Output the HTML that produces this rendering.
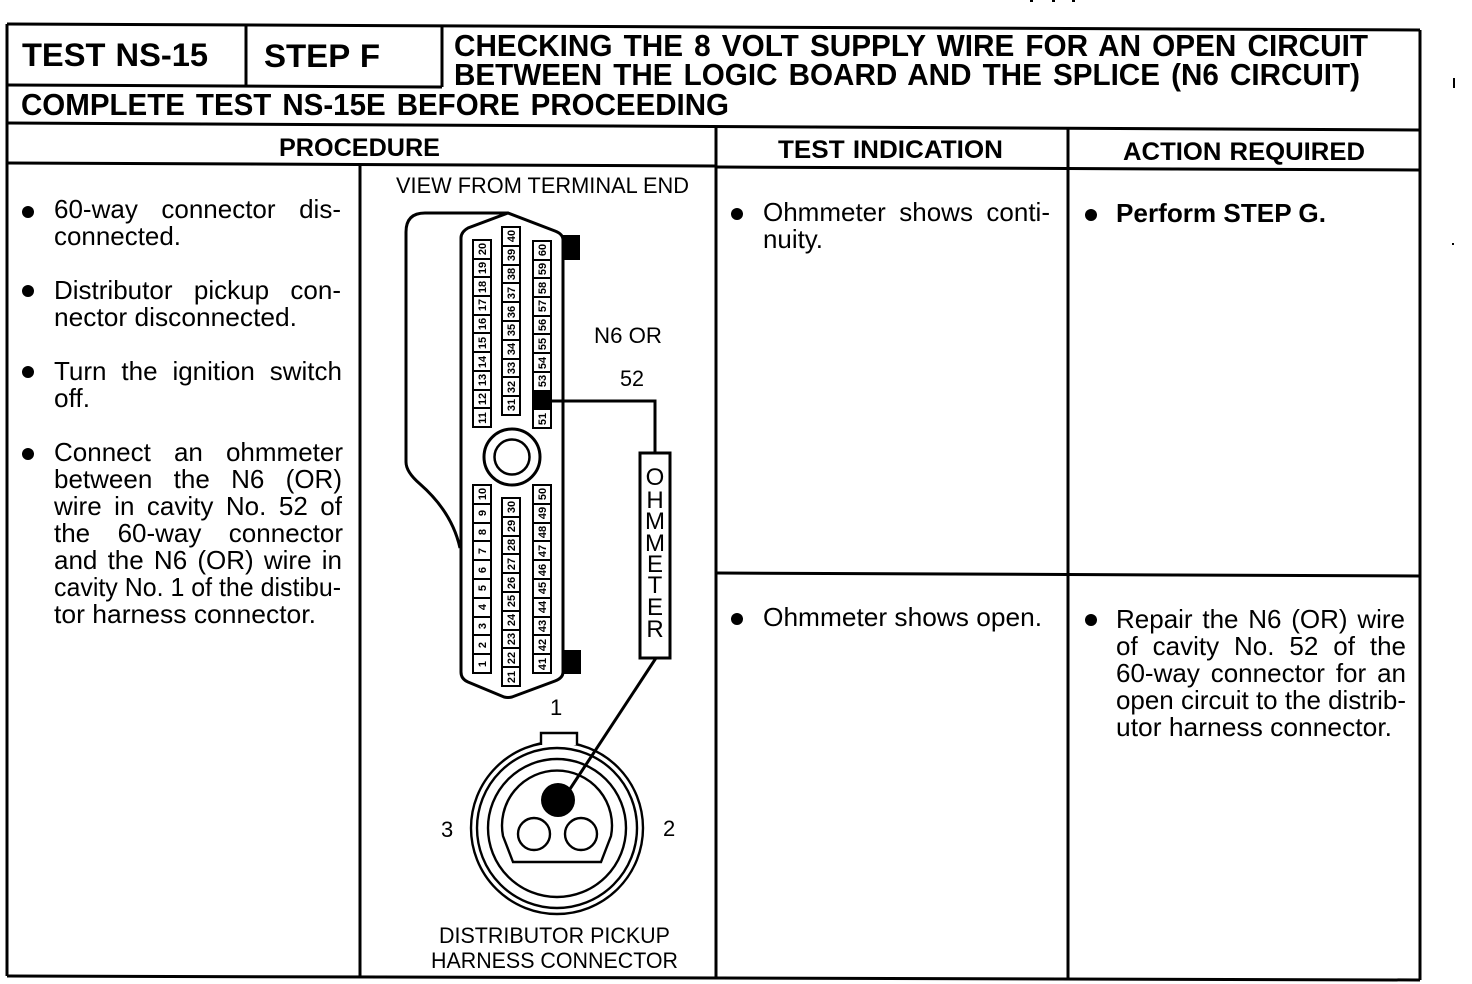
<!DOCTYPE html>
<html><head><meta charset="utf-8"><style>
html,body{margin:0;padding:0;background:#fff;width:1472px;height:984px;overflow:hidden}
body{position:relative;font-family:"Liberation Sans",sans-serif;color:#000}
svg{position:absolute;left:0;top:0}
.j{position:absolute;font-size:26px;line-height:27px;height:27px;text-align:justify;text-align-last:justify;white-space:nowrap}
text{font-family:"Liberation Sans",sans-serif;fill:#000}
.h{font-weight:bold;font-size:32px}
.c{font-weight:bold;font-size:25px}
.b{font-size:26px}
.l{font-size:22px}
.n{font-weight:bold;font-size:11px;text-anchor:middle}
.o{font-size:24px;text-anchor:middle}
</style></head><body>
<svg width="1472" height="984" viewBox="0 0 1472 984">
<g stroke="#000" stroke-width="3" fill="none">
<path d="M7 24L1420 30M7 123L1420 130M7 85L442 87M7 163L716 166M716 167L1420 170M716 573L1420 576M7 976L1420 980"/>
<path d="M7 24V976M1420 30V980M246 25V86M442 26V87M360 164V977M716 128V978M1068 129V979"/>
</g>
<text class="h" x="22" y="66" textLength="186" lengthAdjust="spacingAndGlyphs" word-spacing="1">TEST NS-15</text>
<text class="h" x="264" y="67" textLength="116" lengthAdjust="spacingAndGlyphs" word-spacing="1">STEP F</text>
<text class="h" x="454" y="56" style="font-size:31px" textLength="914" lengthAdjust="spacingAndGlyphs" word-spacing="3">CHECKING THE 8 VOLT SUPPLY WIRE FOR AN OPEN CIRCUIT</text>
<text class="h" x="454" y="85" style="font-size:31px" textLength="906" lengthAdjust="spacingAndGlyphs" word-spacing="3">BETWEEN THE LOGIC BOARD AND THE SPLICE (N6 CIRCUIT)</text>
<text class="h" x="21" y="115" style="font-size:31px" textLength="708" lengthAdjust="spacingAndGlyphs" word-spacing="3">COMPLETE TEST NS-15E BEFORE PROCEEDING</text>
<text class="c" x="279" y="156" textLength="161" lengthAdjust="spacingAndGlyphs">PROCEDURE</text>
<text class="c" x="778" y="158" textLength="225" lengthAdjust="spacingAndGlyphs" word-spacing="1">TEST INDICATION</text>
<text class="c" x="1123" y="160" textLength="242" lengthAdjust="spacingAndGlyphs" word-spacing="1">ACTION REQUIRED</text>

<g fill="#000">
<circle cx="28" cy="212" r="6"/><circle cx="28" cy="291" r="6"/><circle cx="28" cy="372" r="6"/><circle cx="28" cy="454" r="6"/>
<circle cx="737" cy="214" r="6"/><circle cx="737" cy="619" r="6"/><circle cx="1091" cy="215" r="6"/><circle cx="1091" cy="620" r="6"/>
<rect x="1453" y="78" width="2" height="10"/><rect x="1452" y="243" width="2" height="2"/>
<rect x="1030" y="0" width="3" height="2"/><rect x="1052" y="0" width="3" height="2"/><rect x="1072" y="0" width="3" height="2"/>
</g>

<text class="b" x="54" y="245" textLength="127" lengthAdjust="spacingAndGlyphs">connected.</text>
<text class="b" x="54" y="326" textLength="243" lengthAdjust="spacingAndGlyphs">nector disconnected.</text>
<text class="b" x="54" y="407" textLength="36" lengthAdjust="spacingAndGlyphs">off.</text>
<text class="b" x="54" y="596" textLength="287" lengthAdjust="spacingAndGlyphs">cavity No. 1 of the distibu-</text>
<text class="b" x="54" y="623" textLength="262" lengthAdjust="spacingAndGlyphs">tor harness connector.</text>
<text class="b" x="763" y="248" textLength="60" lengthAdjust="spacingAndGlyphs">nuity.</text>
<text class="b" x="763" y="626" textLength="279" lengthAdjust="spacingAndGlyphs">Ohmmeter shows open.</text>
<text class="b" x="1116" y="222" style="font-weight:bold" textLength="210" lengthAdjust="spacingAndGlyphs">Perform STEP G.</text>
<text class="b" x="1116" y="709" textLength="290" lengthAdjust="spacingAndGlyphs">open circuit to the distrib-</text>
<text class="b" x="1116" y="736" textLength="276" lengthAdjust="spacingAndGlyphs">utor harness connector.</text>

<text class="l" x="396" y="193" textLength="293" lengthAdjust="spacingAndGlyphs">VIEW FROM TERMINAL END</text>
<text class="l" x="594" y="343" textLength="68" lengthAdjust="spacingAndGlyphs">N6 OR</text>
<text class="l" x="620" y="386" textLength="24" lengthAdjust="spacingAndGlyphs">52</text>
<text class="l" x="550" y="715">1</text>
<text class="l" x="441" y="837">3</text>
<text class="l" x="663" y="836">2</text>
<text class="l" x="439" y="943" textLength="231" lengthAdjust="spacingAndGlyphs">DISTRIBUTOR PICKUP</text>
<text class="l" x="431" y="968" textLength="247" lengthAdjust="spacingAndGlyphs">HARNESS CONNECTOR</text>

<g fill="none" stroke="#000" stroke-width="3">
<path d="M461 672V238Q461 232 468 228L508 213L555 231Q563 234 563 240V672Q563 678 555 681L512 697Q508 698 504 697L468 682Q461 679 461 672Z"/>
<path d="M508 213H425Q406 213 406 232V462Q406 472 420 484Q452 512 460 548"/>
<circle cx="512" cy="457" r="28"/><circle cx="512" cy="457" r="17.5" stroke-width="2.5"/>
<path d="M551 401H655V453"/>
<path d="M656 658L568 792" stroke-width="3"/>
<rect x="640" y="453" width="30" height="205"/>
</g>
<g fill="#000">
<rect x="563" y="235" width="17" height="25"/><rect x="564" y="650" width="17" height="24"/>
<rect x="533" y="391" width="18" height="18"/>
<circle cx="558" cy="800" r="17"/>
</g>
<g>
<text class="o" x="655" y="485">O</text><text class="o" x="655" y="508">H</text><text class="o" x="655" y="529">M</text><text class="o" x="655" y="551">M</text><text class="o" x="655" y="572">E</text><text class="o" x="655" y="593">T</text><text class="o" x="655" y="615">E</text><text class="o" x="655" y="637">R</text>
</g>

<g fill="none" stroke="#000" stroke-width="2">
<rect x="473" y="240" width="18" height="187"/><path d="M473 259H491M473 277H491M473 296H491M473 315H491M473 333H491M473 352H491M473 371H491M473 390H491M473 408H491"/>
<rect x="502" y="227" width="18" height="188"/><path d="M502 246H520M502 265H520M502 283H520M502 302H520M502 321H520M502 340H520M502 359H520M502 377H520M502 396H520"/>
<rect x="533" y="241" width="18" height="187"/><path d="M533 260H551M533 278H551M533 297H551M533 316H551M533 334H551M533 353H551M533 372H551M533 391H551M533 409H551"/>
<rect x="473" y="485" width="18" height="188"/><path d="M473 504H491M473 523H491M473 541H491M473 560H491M473 579H491M473 598H491M473 617H491M473 635H491M473 654H491"/>
<rect x="502" y="498" width="18" height="188"/><path d="M502 517H520M502 536H520M502 554H520M502 573H520M502 592H520M502 611H520M502 630H520M502 648H520M502 667H520"/>
<rect x="533" y="485" width="18" height="188"/><path d="M533 504H551M533 523H551M533 541H551M533 560H551M533 579H551M533 598H551M533 617H551M533 635H551M533 654H551"/>
</g>
<text class="n" transform="translate(486,249) rotate(-90)">20</text><text class="n" transform="translate(486,268) rotate(-90)">19</text><text class="n" transform="translate(486,287) rotate(-90)">18</text><text class="n" transform="translate(486,305) rotate(-90)">17</text><text class="n" transform="translate(486,324) rotate(-90)">16</text><text class="n" transform="translate(486,343) rotate(-90)">15</text><text class="n" transform="translate(486,362) rotate(-90)">14</text><text class="n" transform="translate(486,380) rotate(-90)">13</text><text class="n" transform="translate(486,399) rotate(-90)">12</text><text class="n" transform="translate(486,418) rotate(-90)">11</text>
<text class="n" transform="translate(515,236) rotate(-90)">40</text><text class="n" transform="translate(515,255) rotate(-90)">39</text><text class="n" transform="translate(515,274) rotate(-90)">38</text><text class="n" transform="translate(515,293) rotate(-90)">37</text><text class="n" transform="translate(515,312) rotate(-90)">36</text><text class="n" transform="translate(515,330) rotate(-90)">35</text><text class="n" transform="translate(515,349) rotate(-90)">34</text><text class="n" transform="translate(515,368) rotate(-90)">33</text><text class="n" transform="translate(515,387) rotate(-90)">32</text><text class="n" transform="translate(515,405) rotate(-90)">31</text>
<text class="n" transform="translate(546,250) rotate(-90)">60</text><text class="n" transform="translate(546,269) rotate(-90)">59</text><text class="n" transform="translate(546,288) rotate(-90)">58</text><text class="n" transform="translate(546,306) rotate(-90)">57</text><text class="n" transform="translate(546,325) rotate(-90)">56</text><text class="n" transform="translate(546,344) rotate(-90)">55</text><text class="n" transform="translate(546,363) rotate(-90)">54</text><text class="n" transform="translate(546,381) rotate(-90)">53</text><text class="n" transform="translate(546,419) rotate(-90)">51</text>
<text class="n" transform="translate(486,494) rotate(-90)">10</text><text class="n" transform="translate(486,513) rotate(-90)">9</text><text class="n" transform="translate(486,532) rotate(-90)">8</text><text class="n" transform="translate(486,551) rotate(-90)">7</text><text class="n" transform="translate(486,570) rotate(-90)">6</text><text class="n" transform="translate(486,588) rotate(-90)">5</text><text class="n" transform="translate(486,607) rotate(-90)">4</text><text class="n" transform="translate(486,626) rotate(-90)">3</text><text class="n" transform="translate(486,645) rotate(-90)">2</text><text class="n" transform="translate(486,664) rotate(-90)">1</text>
<text class="n" transform="translate(515,507) rotate(-90)">30</text><text class="n" transform="translate(515,526) rotate(-90)">29</text><text class="n" transform="translate(515,545) rotate(-90)">28</text><text class="n" transform="translate(515,564) rotate(-90)">27</text><text class="n" transform="translate(515,583) rotate(-90)">26</text><text class="n" transform="translate(515,601) rotate(-90)">25</text><text class="n" transform="translate(515,620) rotate(-90)">24</text><text class="n" transform="translate(515,639) rotate(-90)">23</text><text class="n" transform="translate(515,658) rotate(-90)">22</text><text class="n" transform="translate(515,677) rotate(-90)">21</text>
<text class="n" transform="translate(546,494) rotate(-90)">50</text><text class="n" transform="translate(546,513) rotate(-90)">49</text><text class="n" transform="translate(546,532) rotate(-90)">48</text><text class="n" transform="translate(546,551) rotate(-90)">47</text><text class="n" transform="translate(546,570) rotate(-90)">46</text><text class="n" transform="translate(546,588) rotate(-90)">45</text><text class="n" transform="translate(546,607) rotate(-90)">44</text><text class="n" transform="translate(546,626) rotate(-90)">43</text><text class="n" transform="translate(546,645) rotate(-90)">42</text><text class="n" transform="translate(546,664) rotate(-90)">41</text>

<g fill="none" stroke="#000" stroke-width="2.4">
<circle cx="557" cy="828" r="86"/><circle cx="557" cy="828" r="80"/><circle cx="557" cy="828" r="69"/>
<path d="M513 862L503 836A55 55 0 1 1 611 836L601 862Z"/>
<circle cx="534" cy="834" r="16"/><circle cx="581" cy="834" r="16"/>
</g>
<path d="M541 745V733H577V745" fill="#fff" stroke="#000" stroke-width="2.4"/>
</svg>

<div class="j" style="left:54px;top:196px;width:287px">60-way connector dis-</div>
<div class="j" style="left:54px;top:277px;width:287px">Distributor pickup con-</div>
<div class="j" style="left:54px;top:358px;width:288px">Turn the ignition switch</div>
<div class="j" style="left:54px;top:439px;width:289px">Connect an ohmmeter</div>
<div class="j" style="left:54px;top:466px;width:288px">between the N6 (OR)</div>
<div class="j" style="left:54px;top:493px;width:288px">wire in cavity No. 52 of</div>
<div class="j" style="left:54px;top:520px;width:289px">the 60-way connector</div>
<div class="j" style="left:54px;top:547px;width:288px">and the N6 (OR) wire in</div>
<div class="j" style="left:763px;top:199px;width:287px">Ohmmeter shows conti-</div>
<div class="j" style="left:1116px;top:606px;width:289px">Repair the N6 (OR) wire</div>
<div class="j" style="left:1116px;top:633px;width:290px">of cavity No. 52 of the</div>
<div class="j" style="left:1116px;top:660px;width:290px">60-way connector for an</div>
</body></html>
